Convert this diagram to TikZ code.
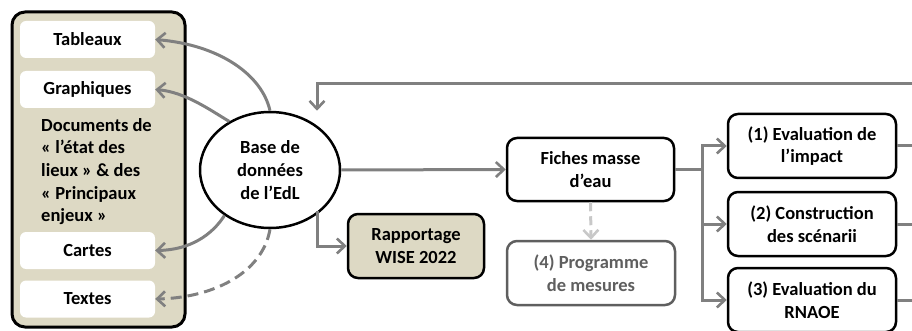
\documentclass[tikz,border=0pt]{standalone}
\usepackage{fontspec}
\setmainfont{Carlito}
\usetikzlibrary{arrows.meta,shapes.geometric}
\definecolor{tan}{RGB}{221,217,196}
\definecolor{conn}{RGB}{128,128,128}
\definecolor{pgray}{RGB}{95,95,95}
\definecolor{lgray}{RGB}{200,200,200}
\tikzset{
  txt/.style={font=\bfseries\fontsize{18.5}{22.7}\selectfont, align=center},
  whitebox/.style={txt, fill=white, rounded corners=6pt, minimum width=135pt, minimum height=37pt, inner sep=0pt},
  procbox/.style={txt, draw=black, line width=2.5pt, fill=white, rounded corners=10pt, inner sep=0pt},
  conn/.style={draw=conn, line width=3pt, -{Straight Barb[length=8pt,width=15pt,line width=2.6pt]}},
  line/.style={draw=conn, line width=3pt},
}
\begin{document}
\begin{tikzpicture}[x=1pt,y=-1pt]
\useasboundingbox (0,0) rectangle (912,331);
% left panel
\node[draw=black, line width=3pt, fill=tan, rounded corners=13pt, minimum width=173pt, minimum height=315pt, inner sep=0pt] (panel) at (98.5,169.5) {};
\node[whitebox] (tab) at (87.5,39.5) {Tableaux};
\node[whitebox] (gra) at (87.5,89.5) {Graphiques};
\node[whitebox] (car) at (87.5,250.5) {Cartes};
\node[whitebox] (tex) at (87.5,299) {Textes};
\node[txt, align=left, anchor=north west, inner sep=0pt] (doc) at (41,118) {Documents de\\« l’état des\\lieux » \& des\\« Principaux\\enjeux »};
% ellipse
\node[txt, ellipse, draw=black, line width=2.5pt, fill=white, minimum width=140pt, minimum height=116pt, inner sep=0pt] (bdd) at (270,170) {Base de\\données\\de l’EdL};
% boxes
\node[procbox, minimum width=167pt, minimum height=63pt] (fiche) at (590.5,169.5) {Fiches masse\\d’eau};
\node[procbox, fill=tan, minimum width=136pt, minimum height=64pt] (wise) at (416,246) {Rapportage\\WISE 2022};
\node[procbox, draw=pgray, text=pgray, minimum width=168pt, minimum height=64pt] (prog) at (591,273) {(4) Programme\\de mesures};
\node[procbox, minimum width=168pt, minimum height=64pt] (b1) at (812,146) {(1) Evaluation de\\l’impact};
\node[procbox, minimum width=168pt, minimum height=64pt] (b2) at (812,224) {(2) Construction\\des scénarii};
\node[procbox, minimum width=168pt, minimum height=64pt] (b3) at (812,300) {(3) Evaluation du\\RNAOE};
% coordinates
\coordinate (topR) at (912,84);
\coordinate (topL) at (317,84);
\coordinate (split) at (702,169.5);
\coordinate (r1) at (912,146);
\coordinate (r2) at (912,224);
\coordinate (r3) at (912,300);
% curved arrows to left panel
\draw[conn] (bdd.north) .. controls (262,75) and (220,45) .. (tab.east);
\draw[conn] (bdd.130) .. controls (210,110) and (185,92) .. (gra.east);
\draw[conn] (bdd.225) .. controls (212,235) and (190,250) .. (car.east);
\draw[conn, dashed, dash pattern=on 11pt off 6pt] (bdd.south) .. controls (262,275) and (210,298) .. (tex.east);
% feedback from right
\draw[conn] (topR) -- (topL) -- (bdd.north -| topL);
% ellipse to fiche
\draw[conn] (bdd.east) -- (fiche.west);
% ellipse to wise
\draw[conn] (bdd.south -| topL) ++(0,-18) |- (wise.west);
% fiche to prog
\draw[conn, draw=lgray, dash pattern=on 9pt off 5pt] (fiche.south) -- (prog.north);
% branch
\draw[line] (fiche.east) -- (split);
\draw[conn] (split) |- (b1.west);
\draw[conn] (split) |- (b2.west);
\draw[conn] (split) |- (b3.west);
\draw[line] (b1.east) -- (r1);
\draw[line] (b2.east) -- (r2);
\draw[line] (b3.east) -- (r3);
\end{tikzpicture}
\end{document}
